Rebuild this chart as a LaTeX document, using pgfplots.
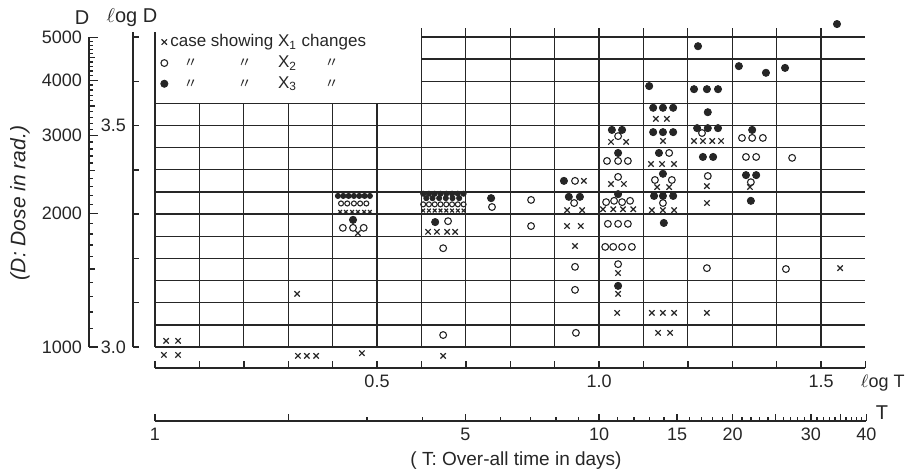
\documentclass[border=0pt]{standalone}
\usepackage{fontspec}
\setmainfont{Liberation Sans}
\newfontfamily\cjk{Noto Sans CJK JP}
\usepackage{calc}
\usepackage{pgfplots}
\pgfplotsset{compat=1.18}

\newcommand{\dit}{{\cjk\fontsize{7}{8}\selectfont 〃}}

\begin{document}
\begin{tikzpicture}
\path[use as bounding box] (0,0) rectangle (454pt,235.5pt);

\pgfplotsset{
  scalebase/.style={
    scale only axis, anchor=south west, tick align=inside,
    axis line style={line width=1pt, black!85},
    every tick/.style={black!85, line width=0.7pt},
    tick label style={font=\fontsize{9}{10}\selectfont, black!85},
  },
  xone/.style={only marks, mark=x, mark size=1.9pt, black!85, mark options={line width=0.6pt}},
  xtwo/.style={only marks, mark=o, mark size=1.7pt, black!85, mark options={line width=0.55pt}},
  xthree/.style={only marks, mark=*, mark size=1.8pt, black!85, mark options={fill=black!85}},
}

% D scale
\begin{axis}[scalebase, at={(44.5pt,62pt)}, width=1pt, height=154.82pt,
  xmin=0, xmax=1, ymode=log, ymin=1000, ymax=5000,
  axis x line=none, axis y line*=left,
  ytick={1000,2000,3000,4000,5000}, yticklabels={1000,2000,3000,4000,5000},
  minor ytick={1100,1200,1300,1400,1600,1700,1800,1900,2100,2200,2300,2400,2600,2700,2800,2900,3100,3200,3300,3400,3600,3700,3800,3900,4100,4200,4300,4400,4600,4700,4800,4900},
  extra y ticks={1500,2500,3500,4500}, extra y tick labels={},
  extra y tick style={major tick length=3.2pt},
  major tick length=4.5pt, minor tick length=2.2pt]
\end{axis}

% log D scale
\begin{axis}[scalebase, at={(66.5pt,62pt)}, width=1pt, height=157.27pt,
  xmin=0, xmax=1, ymin=3, ymax=3.71,
  axis x line=none, axis y line*=left,
  ytick={3.0,3.1,3.2,3.3,3.4,3.5,3.6,3.7}, yticklabels={3.0,,,,,3.5,,},
  major tick length=3pt]
\end{axis}

% log T scale
\begin{axis}[scalebase, at={(77.5pt,51.5pt)}, width=355.2pt, height=1pt,
  xmin=0, xmax=1.6, ymin=0, ymax=1,
  axis y line=none, axis x line*=bottom,
  xtick={0,0.1,0.2,0.3,0.4,0.5,0.6,0.7,0.8,0.9,1.0,1.1,1.2,1.3,1.4,1.5,1.6},
  xticklabels={,,,,,0.5,,,,,1.0,,,,,1.5,},
  major tick length=3.5pt]
\end{axis}

% T scale
\begin{axis}[scalebase, at={(77.5pt,25pt)}, width=355.66pt, height=1pt,
  xmode=log, xmin=1, xmax=40, ymin=0, ymax=1,
  axis y line=none, axis x line*=bottom,
  xtick={1,2,5,10,15,20,25,30,35,40}, xticklabels={1,,5,10,15,20,,30,,40},
  minor xtick={3,4,6,7,8,9,11,12,13,14,16,17,18,19,21,22,23,24,26,27,28,29,31,32,33,34,36,37,38,39},
  major tick length=3.5pt, minor tick length=2pt]
\end{axis}

% main field
\begin{axis}[scale only axis, anchor=south west, at={(77.5pt,62pt)},
  width=355.2pt, height=155.05pt,
  xmin=0, xmax=1.6, ymin=3, ymax=3.7,
  axis lines=none, clip=false,
  legend style={draw=none, fill=none, at={(axis cs:0.012,3.712)}, anchor=north west,
    font=\fontsize{8.5}{10}\selectfont, row sep=0.6pt, inner sep=0pt,
    nodes={inner sep=1.2pt, text=black!85}},
  legend cell align=left,
  legend image code/.code={\draw[mark repeat=2,mark phase=2,#1] plot coordinates {(0cm,0cm) (0.14cm,0cm) (0.28cm,0cm)};}]

% grid
\pgfplotsinvokeforeach{0.1,0.2,0.3,0.4,0.5}{
  \draw[black!85, line width=0.65pt] (axis cs:#1,3) -- (axis cs:#1,3.55);}
\pgfplotsinvokeforeach{0.6,0.7,0.8,0.9,1.0,1.1,1.2,1.3,1.4,1.5}{
  \draw[black!85, line width=0.65pt] (axis cs:#1,3) -- (axis cs:#1,3.72);}
\draw[black!85, line width=0.9pt] (axis cs:0,3) -- (axis cs:0,3.712);
\pgfplotsinvokeforeach{3.05,3.1,3.15,3.2,3.25,3.3,3.35,3.4,3.45,3.5,3.55}{
  \draw[black!85, line width=0.65pt] (axis cs:0,#1) -- (axis cs:1.6,#1);}
\pgfplotsinvokeforeach{3.6,3.65,3.7}{
  \draw[black!85, line width=0.65pt] (axis cs:0.6,#1) -- (axis cs:1.6,#1);}
\draw[black!85, line width=1.4pt] (axis cs:0,3) -- (axis cs:1.6,3);

% X1 changes
\addplot[xone] coordinates {
(0.025,3.014) (0.052,3.014) (0.020,2.982) (0.052,2.982)
(0.320,3.120) (0.322,2.980) (0.342,2.980) (0.363,2.980)
(0.466,2.986) (0.649,2.980) (0.457,3.257)
(0.615,3.260) (0.635,3.260) (0.658,3.260) (0.676,3.260)
(0.966,3.375) (0.928,3.309) (0.962,3.309) (0.928,3.273) (0.959,3.273) (0.946,3.228)
(1.027,3.463) (1.061,3.463) (1.027,3.368) (1.056,3.368)
(1.009,3.311) (1.032,3.311) (1.054,3.311) (1.077,3.311)
(1.043,3.167) (1.043,3.120) (1.041,3.077)
(1.128,3.515) (1.153,3.515) (1.144,3.465)
(1.117,3.413) (1.142,3.413) (1.169,3.413)
(1.131,3.361) (1.158,3.361)
(1.119,3.309) (1.144,3.309) (1.169,3.309)
(1.119,3.077) (1.144,3.077) (1.169,3.077)
(1.133,3.032) (1.160,3.032)
(1.214,3.465) (1.234,3.465) (1.255,3.465) (1.275,3.465)
(1.243,3.363) (1.243,3.325) (1.243,3.077)
(1.340,3.361) (1.543,3.178)
};
\addlegendentry{case showing X\textsubscript{1} changes}

% X2 changes
\addplot[xtwo] coordinates {
(0.423,3.269) (0.446,3.269) (0.470,3.269)
(0.660,3.284) (0.649,3.223) (0.649,3.027)
(0.759,3.316) (0.847,3.332) (0.847,3.273)
(0.946,3.375) (0.944,3.325) (0.946,3.181) (0.946,3.129) (0.948,3.032)
(1.043,3.476) (1.018,3.420) (1.043,3.420) (1.065,3.420) (1.043,3.384)
(1.016,3.327) (1.034,3.330) (1.052,3.327) (1.070,3.330)
(1.020,3.278) (1.043,3.278) (1.065,3.278)
(1.014,3.226) (1.032,3.226) (1.052,3.226) (1.074,3.226)
(1.043,3.187)
(1.158,3.438) (1.126,3.377) (1.164,3.377) (1.144,3.325)
(1.232,3.483) (1.245,3.386) (1.243,3.178)
(1.322,3.472) (1.345,3.472) (1.369,3.472) (1.331,3.429) (1.354,3.429) (1.342,3.372)
(1.435,3.427) (1.421,3.176)
};
\addlegendentry{\makebox[\widthof{case }]{\dit}\makebox[\widthof{showing }]{\dit}X\textsubscript{2}\makebox[\widthof{ changes}]{\dit}}

% X3 changes
\addplot[xthree] coordinates {
(0.446,3.287) (0.631,3.282) (0.757,3.336)
(0.921,3.375) (0.932,3.339) (0.957,3.339)
(1.029,3.490) (1.052,3.490) (1.043,3.438) (1.043,3.345) (1.043,3.138)
(1.113,3.589) (1.122,3.540) (1.144,3.540) (1.167,3.540)
(1.122,3.485) (1.144,3.485) (1.167,3.485)
(1.135,3.438) (1.144,3.391)
(1.124,3.341) (1.144,3.341) (1.167,3.341) (1.146,3.280)
(1.223,3.679) (1.214,3.582) (1.243,3.582) (1.268,3.582) (1.245,3.530)
(1.221,3.494) (1.245,3.494) (1.268,3.494) (1.234,3.429) (1.257,3.429)
(1.315,3.634) (1.376,3.619) (1.345,3.490) (1.331,3.388) (1.354,3.388) (1.342,3.330)
(1.419,3.630) (1.536,3.729)
};
\addlegendentry{\makebox[\widthof{case }]{\dit}\makebox[\widthof{showing }]{\dit}X\textsubscript{3}\makebox[\widthof{ changes}]{\dit}}

% dense groups, smaller marks
\addplot[xone, mark size=1.3pt, forget plot] coordinates {
(0.417,3.305) (0.430,3.305) (0.444,3.305) (0.457,3.305) (0.471,3.305) (0.484,3.305)
(0.604,3.308) (0.617,3.308) (0.630,3.308) (0.643,3.308) (0.656,3.308) (0.669,3.308) (0.682,3.308) (0.695,3.308)
};
\addplot[xtwo, mark size=1.25pt, forget plot] coordinates {
(0.419,3.324) (0.433,3.324) (0.448,3.324) (0.462,3.324) (0.476,3.324)
(0.604,3.322) (0.617,3.322) (0.630,3.322) (0.643,3.322) (0.656,3.322) (0.669,3.322) (0.682,3.322) (0.695,3.322)
};
\addplot[xthree, mark size=1.3pt, forget plot] coordinates {
(0.412,3.341) (0.424,3.341) (0.436,3.341) (0.448,3.341) (0.460,3.341) (0.472,3.341) (0.484,3.341)
(0.604,3.346) (0.617,3.346) (0.630,3.346) (0.643,3.346) (0.656,3.346) (0.669,3.346) (0.682,3.346) (0.695,3.346)
(0.611,3.336) (0.625,3.336) (0.640,3.336) (0.655,3.336) (0.670,3.336) (0.685,3.336)
};
\end{axis}

% scale titles
\node[black!85, font=\fontsize{10}{12}\selectfont] at (41pt,226.5pt) {D};
\node[black!85, font=\fontsize{10}{12}\selectfont] at (66pt,226.5pt) {$\ell$og D};
\node[black!85, rotate=90, font=\itshape\fontsize{10.5}{12}\selectfont] at (10pt,134pt) {(D: Dose in rad.)};
\node[black!85, font=\fontsize{9}{11}\selectfont, anchor=east, inner sep=1pt] at (453.5pt,44pt) {$\ell$og T};
\node[black!85, font=\fontsize{10}{12}\selectfont] at (441pt,29pt) {T};
\node[black!85, font=\fontsize{9.5}{12}\selectfont] at (258pt,5pt) {( T: Over-all time in days)};
\end{tikzpicture}
\end{document}
